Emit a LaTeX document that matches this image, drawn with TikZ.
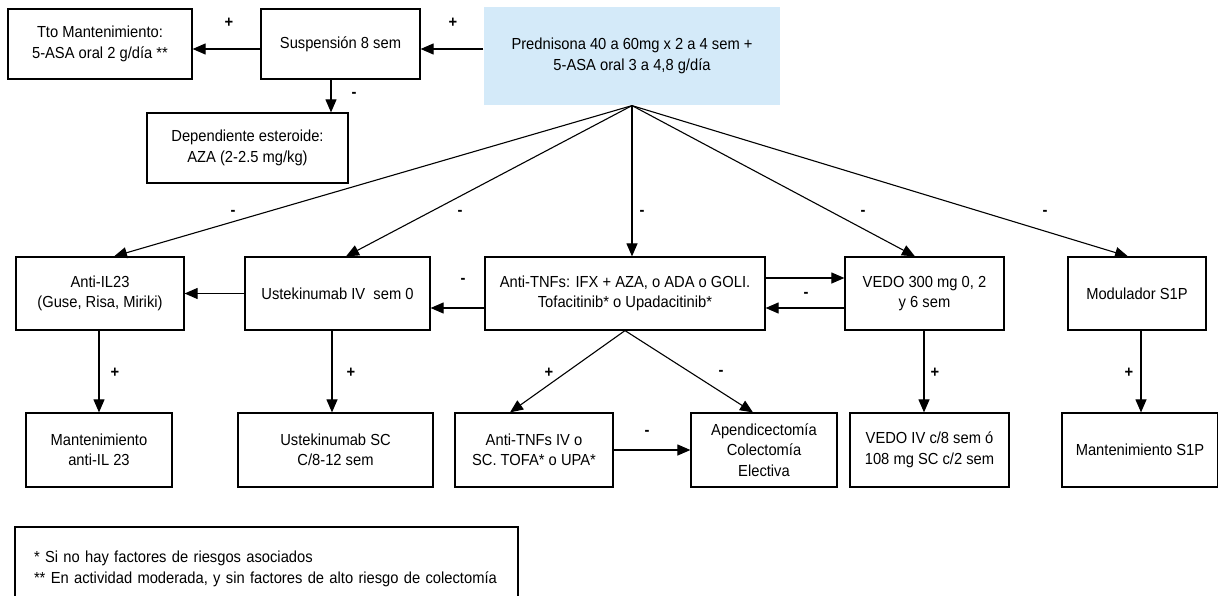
\documentclass[tikz,border=0pt]{standalone}
\usepackage{fontspec}
\setmainfont{Liberation Sans}[FakeStretch=0.92]
\usepackage{tikz}
\usetikzlibrary{shapes,arrows,arrows.meta,positioning}
\definecolor{azulclaro}{RGB}{212,234,249}

\begin{document}
\begin{tikzpicture}[x=1pt,y=-1pt,>={Triangle[length=13pt,width=11pt]},line width=1.1pt]

\useasboundingbox (0,0) rectangle (1218,596);
\clip (0,0) rectangle (1218,596);

\tikzstyle{caja}=[rectangle,draw=black,line width=1.2pt,align=center,inner sep=2pt,font=\fontsize{16}{20.5}\selectfont]
\tikzstyle{signo}=[font=\fontsize{16}{17}\selectfont\bfseries,inner sep=1pt]

% arriba
\node (pred) at (632,56) [caja,draw=none,fill=azulclaro,minimum width=296pt,minimum height=98pt] {Prednisona 40 a 60mg x 2 a 4 sem +\\5-ASA oral 3 a 4,8 g/día};
\node (susp) at (340.5,44) [caja,minimum width=159pt,minimum height=70pt] {Suspensión 8 sem};
\node (tto) at (100,44) [caja,minimum width=184pt,minimum height=70pt] {Tto Mantenimiento:\\5-ASA oral 2 g/día **};
\node (dep) at (247.5,148) [caja,minimum width=201pt,minimum height=70pt] {Dependiente esteroide:\\AZA (2-2.5 mg/kg)};

% fila del medio
\node (il23) at (100,293.5) [caja,minimum width=168pt,minimum height=73pt] {Anti-IL23\\(Guse, Risa, Miriki)};
\node (ustiv) at (337.5,293.5) [caja,minimum width=185pt,minimum height=73pt] {Ustekinumab IV~ sem 0};
\node (tnf) at (625,293.5) [caja,minimum width=280pt,minimum height=73pt] {Anti-TNFs: IFX + AZA, o ADA o GOLI.\\Tofacitinib* o Upadacitinib*};
\node (vedo) at (924.5,293.5) [caja,minimum width=159pt,minimum height=73pt] {VEDO 300 mg 0, 2\\y 6 sem};
\node (s1p) at (1137,293.5) [caja,minimum width=138pt,minimum height=73pt] {Modulador S1P};

% abajo
\node (mil23) at (99,450) [caja,minimum width=146pt,minimum height=74pt] {Mantenimiento\\anti-IL 23};
\node (ustsc) at (335.5,450) [caja,minimum width=195pt,minimum height=74pt] {Ustekinumab SC\\C/8-12 sem};
\node (tnfiv) at (534,450) [caja,minimum width=158pt,minimum height=74pt] {Anti-TNFs IV o\\SC. TOFA* o UPA*};
\node (apen) at (764,450) [caja,minimum width=146pt,minimum height=74pt] {Apendicectomía\\Colectomía\\Electiva};
\node (vedoiv) at (929.5,450) [caja,minimum width=159pt,minimum height=74pt] {VEDO IV c/8 sem ó\\108 mg SC c/2 sem};
\node (ms1p) at (1140,450) [caja,minimum width=156pt,minimum height=74pt] {Mantenimiento S1P};

\node (nota) at (266.5,569) [caja,align=left,inner xsep=19pt,text width=465pt,minimum height=84pt] {* Si no hay factores de riesgos asociados\\{}** En actividad moderada, y sin factores de alto riesgo de colectomía};

% flechas
\draw[->] (pred.west |- 0,49) -- (susp.east |- 0,49);
\draw[->] (susp.west |- 0,49) -- (tto.east |- 0,49);
\draw[->] (susp.south -| 331,0) -- (dep.north -| 331,0);

\draw[->] (pred.south) -- (il23.north -| 114,0);
\draw[->] (pred.south) -- (ustiv.north -| 346,0);
\draw[->] (pred.south) -- (tnf.north -| 632,0);
\draw[->] (pred.south) -- (vedo.north -| 915,0);
\draw[->] (pred.south) -- (s1p.north -| 1128,0);

\draw[->] (ustiv.west) -- (il23.east);
\draw[->] (tnf.west |- 0,308) -- (ustiv.east |- 0,308);
\draw[->] (tnf.east |- 0,278) -- (vedo.west |- 0,278);
\draw[->] (vedo.west |- 0,308) -- (tnf.east |- 0,308);

\draw[->] (il23.south -| 99,0) -- (mil23.north -| 99,0);
\draw[->] (ustiv.south -| 332,0) -- (ustsc.north -| 332,0);
\draw[->] (tnf.south) -- (tnfiv.north -| 510,0);
\draw[->] (tnf.south) -- (apen.north -| 753,0);
\draw[->] (tnfiv.east) -- (apen.west);
\draw[->] (vedo.south -| 924,0) -- (vedoiv.north -| 924,0);
\draw[->] (s1p.south -| 1141,0) -- (ms1p.north -| 1141,0);

% signos
\node (mas1) at (229,23) [signo] {+};
\node (mas2) at (453,23) [signo] {+};
\node (menos1) at (354,95) [signo] {-};
\node (menos2) at (233,213) [signo] {-};
\node (menos3) at (460,213) [signo] {-};
\node (menos4) at (642,213) [signo] {-};
\node (menos5) at (863,213) [signo] {-};
\node (menos6) at (1045,213) [signo] {-};
\node (menos7) at (463,281) [signo] {-};
\node (menos8) at (806,295) [signo] {-};
\node (mas3) at (115,373) [signo] {+};
\node (mas4) at (351,373) [signo] {+};
\node (mas5) at (549,373) [signo] {+};
\node (menos9) at (721,373) [signo] {-};
\node (mas6) at (935,373) [signo] {+};
\node (mas7) at (1129,373) [signo] {+};
\node (menos10) at (647,433) [signo] {-};

\end{tikzpicture}
\end{document}
